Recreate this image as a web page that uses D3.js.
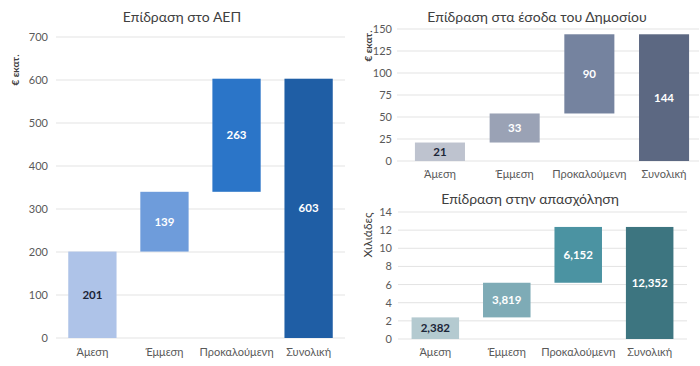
<!DOCTYPE html>
<html><head><meta charset="utf-8">
<script src="https://cdn.jsdelivr.net/npm/d3@7"></script>
<style>body{margin:0;background:#fff}svg{display:block}</style>
</head><body>
<svg id="c" width="700" height="366"></svg>
<script>
const categories = ["Άμεση", "Έμμεση", "Προκαλούμενη", "Συνολική"];

const gdpValues = [201, 139, 263, 603];
const gdpTicks = [0, 100, 200, 300, 400, 500, 600, 700];
const gdpLabels = ["201", "139", "263", "603"];
const gdpColors = ["#aec3e8", "#6e9cdb", "#2b75c8", "#1f5ea5"];

const revValues = [21, 33, 90, 144];
const revTicks = [0, 25, 50, 75, 100, 125, 150];
const revLabels = ["21", "33", "90", "144"];
const revColors = ["#bec3cf", "#9aa2b5", "#75839f", "#5c6882"];

const empValues = [2.382, 3.819, 6.152, 12.352];
const empTicks = [0, 2, 4, 6, 8, 10, 12, 14];
const empLabels = ["2,382", "3,819", "6,152", "12,352"];
const empColors = ["#b4cad0", "#7eabb6", "#4b93a2", "#3d7580"];

const svg = d3.select("#c");
const FONT = "Lato, 'Open Sans', sans-serif";

function drawChart(o) {
  const g = svg.append("g");
  const y = d3.scaleLinear().domain([0, o.max]).range([o.y0, o.y1]);
  const x = d3.scaleBand().domain(categories).range([o.x0, o.x1])
    .paddingInner(o.pi).paddingOuter(o.po);

  g.selectAll(".grid").data(o.ticks).enter().append("line")
    .attr("x1", o.gx0).attr("x2", o.gx1)
    .attr("y1", d => y(d)).attr("y2", d => y(d))
    .attr("stroke", "#e3e3e3").attr("stroke-width", 1);

  const ya = d3.axisLeft(y).tickValues(o.ticks).tickSize(0).tickPadding(0);
  const yg = g.append("g").attr("transform", `translate(${o.tx},0)`).call(ya);
  yg.select(".domain").remove();
  yg.selectAll("text").attr("font-family", FONT).attr("font-size", 11).attr("fill", "#595959");

  const xa = d3.axisBottom(x).tickSize(0).tickPadding(0);
  const xg = g.append("g").attr("transform", `translate(0,${o.xly})`).call(xa);
  xg.select(".domain").remove();
  xg.selectAll("text").attr("font-family", FONT).attr("font-size", 11).attr("fill", "#595959");

  let cum = 0;
  const bars = o.values.map((v, i) => {
    let lo, hi;
    if (i === o.values.length - 1) { lo = 0; hi = v; }
    else { lo = cum; hi = cum + v; cum = hi; }
    return { cat: categories[i], lo, hi, color: o.colors[i], label: o.labels[i], i };
  });
  g.selectAll(".bar").data(bars).enter().append("rect")
    .attr("x", d => x(d.cat)).attr("width", x.bandwidth())
    .attr("y", d => y(d.hi)).attr("height", d => y(d.lo) - y(d.hi))
    .attr("fill", d => d.color);
  g.selectAll(".lbl").data(bars).enter().append("text")
    .attr("x", d => x(d.cat) + x.bandwidth() / 2)
    .attr("y", d => (y(d.lo) + y(d.hi)) / 2)
    .attr("dy", "0.35em").attr("text-anchor", "middle")
    .attr("font-family", FONT).attr("font-weight", "bold").attr("font-size", 11.5)
    .attr("fill", d => d.i === 0 ? "#1b2538" : "#ffffff")
    .text(d => d.label);

  g.append("text").attr("x", o.titleX).attr("y", o.titleY).attr("text-anchor", "middle")
    .attr("font-family", FONT).attr("font-size", 14).attr("fill", "#404040").text(o.title);

  g.append("text").attr("transform", `translate(${o.ylx},${o.yly}) rotate(-90)`)
    .attr("text-anchor", "middle").attr("font-family", FONT)
    .attr("font-size", o.ylSize).attr("font-weight", o.ylBold ? "bold" : "normal")
    .attr("fill", "#404040").text(o.yTitle);
}

drawChart({
  values: gdpValues, ticks: gdpTicks, labels: gdpLabels, colors: gdpColors, max: 700,
  y0: 338, y1: 37, x0: 56, x1: 345, pi: 0.33, po: 0.17, gx0: 56, gx1: 345, tx: 48,
  xly: 348, title: "Επίδραση στο ΑΕΠ", titleX: 182, titleY: 22,
  yTitle: "€ εκατ.", ylx: 19, yly: 70, ylSize: 10, ylBold: true
});
drawChart({
  values: revValues, ticks: revTicks, labels: revLabels, colors: revColors, max: 150,
  y0: 161, y1: 29, x0: 397, x1: 707, pi: 0.33, po: 0.24, gx0: 397, gx1: 699, tx: 392,
  xly: 170, title: "Επίδραση στα έσοδα του Δημοσίου", titleX: 537, titleY: 22,
  yTitle: "€ εκατ.", ylx: 372, yly: 46, ylSize: 10, ylBold: true
});
drawChart({
  values: empValues, ticks: empTicks, labels: empLabels, colors: empColors, max: 14,
  y0: 339, y1: 212, x0: 398, x1: 687, pi: 0.335, po: 0.19, gx0: 398, gx1: 687, tx: 392,
  xly: 348, title: "Επίδραση στην απασχόληση", titleX: 530, titleY: 204,
  yTitle: "Χιλιάδες", ylx: 372, yly: 235, ylSize: 12, ylBold: false
});
</script>
</body></html>
